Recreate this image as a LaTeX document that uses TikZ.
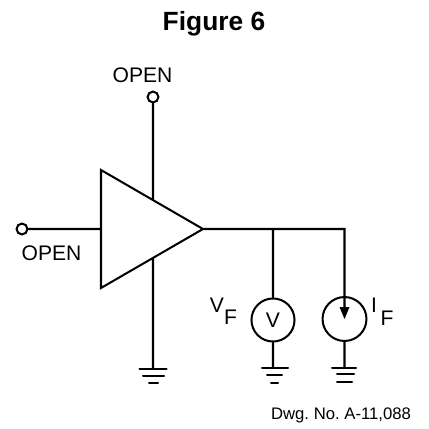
\documentclass[tikz,border=0pt]{standalone}
\usepackage{fontspec}
\setmainfont{Liberation Sans}
\tikzset{
	wire/.style={line width=1.15pt,line cap=round},
	terminal/.style={circle,draw,line width=1.15pt,fill=white,inner sep=0pt,minimum size=6.2pt},
	meter/.style={circle,draw,line width=1.15pt,inner sep=0pt,minimum size=24.5pt,font=\fontsize{12}{14}\selectfont},
	tag/.style={inner sep=0pt,font=\fontsize{12}{14}\selectfont}
}
\begin{document}
\begin{tikzpicture}[x=0.02cm,y=-0.02cm]
		\useasboundingbox (0,0) rectangle (429,429);
		\coordinate (A1) at (101,170);
		\coordinate (A2) at (101,288);
		\coordinate (A3) at (203,229);
		\coordinate (Ain) at (101,229);
		\coordinate (Atop) at (153,200);
		\coordinate (Abot) at (153,258);
		\coordinate (G1) at (153,369);
		\coordinate (G2) at (273,368);
		\coordinate (G3) at (344.5,368);
		\coordinate (J1) at (273,229);
		\coordinate (J2) at (344.5,229);
		\coordinate (T1) at (344.5,310);
		\node[terminal] (Ptop) at (153,97) {};
		\node[terminal] (Pleft) at (22,229) {};
		\node[meter] (V) at (273,320) {V};
		\node[meter,minimum size=25pt] (I) at (344.5,319) {};
		\node[tag] (Ltop) at (142.5,75.5) {OPEN};
		\node[tag] (Lleft) at (51.5,253) {OPEN};
		\node[tag] (Lv) at (217,305) {V};
		\node[tag] (Lvf) at (230.5,317) {F};
		\node[tag] (Li) at (374,305) {I};
		\node[tag] (Lif) at (387,318) {F};
		\node[inner sep=0pt,font=\bfseries\fontsize{15}{18}\selectfont] (Title) at (214,24) {Figure 6};
		\node[inner sep=0pt,font=\frenchspacing\fontsize{9.5}{11}\selectfont] (Dwg) at (341,415) {Dwg. No. A-11,088};
		\draw[wire,line join=miter] 
		(A1) to (A2) to (A3) to cycle
		(Pleft) to (Ain)
		(Ptop) to (Atop)
		(Abot) to (G1)
		(A3) to (J2) to (T1)
		(J1) to (V)
		(V) to (G2)
		(I) to (G3);
		\fill (339.5,307) -- (349.5,307) -- (344.5,319) -- cycle;
		\draw[wire] 
		(139.5,369) to (166.5,369)
		(143,376) to (164,376)
		(149,383) to (158,383)
		(262,368) to (288,368)
		(267,375) to (282,375)
		(271,383) to (278,383)
		(332,368) to (356,368)
		(337,374) to (354,374)
		(337,382) to (352,382);
	\end{tikzpicture}
\end{document}
